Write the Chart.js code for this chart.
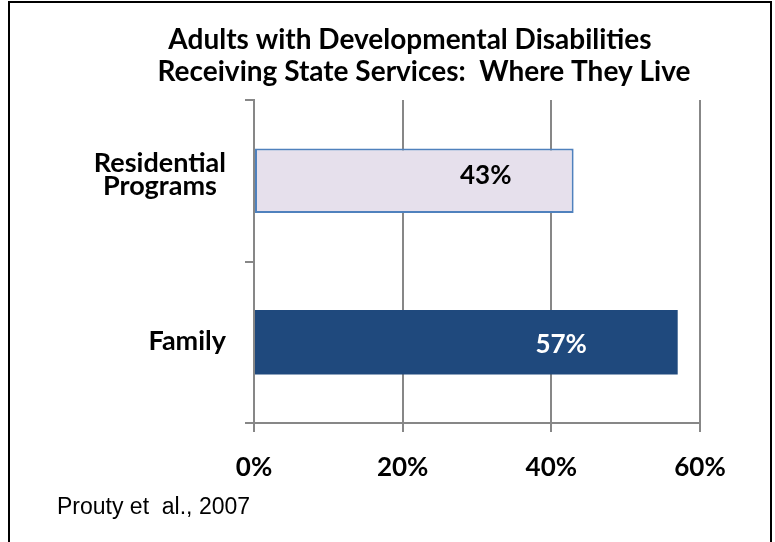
<!DOCTYPE html>
<html><head><meta charset="utf-8">
<script src="https://cdn.jsdelivr.net/npm/chart.js@4"></script>
<style>html,body{margin:0;padding:0;background:#fff}#wrap{width:775px;height:542px;position:relative}</style>
</head><body><div id="wrap"><canvas id="c"></canvas></div>
<script>
const titleLines = ["Adults with Developmental Disabilities", "Receiving State Services:  Where They Live"];
const categories = [["Residential", "Programs"], ["Family"]];
const values = [43, 57];
const valueLabels = ["43%", "57%"];
const xTickValues = [0, 20, 40, 60];
const sourceNote = "Prouty et  al., 2007";

const barFill = ["#E6E0EC", "#1F497D"];
const barEdge = ["#4F81BD", "#1F497D"];
const labelInk = ["#000000", "#FFFFFF"];
const FONT = "Lato, 'Open Sans', sans-serif";
const GRID = "#878787";

const overlay = {
  id: "overlay",
  afterDraw(chart) {
    const ctx = chart.ctx;
    const ys = chart.scales.y, xs = chart.scales.x;
    ctx.save();
    // frame
    ctx.strokeStyle = "#000"; ctx.lineWidth = 2;
    ctx.strokeRect(9, 2, 762, 560);
    // title
    ctx.fillStyle = "#000";
    ctx.font = "bold 28px " + FONT;
    ctx.textAlign = "center"; ctx.textBaseline = "alphabetic";
    ctx.fillText(titleLines[0], 410, 49);
    ctx.fillText(titleLines[1], 424, 81);
    // category labels
    ctx.font = "bold 27px " + FONT;
    categories.forEach((lines, i) => {
      const cy = ys.getPixelForValue(i);
      const w = Math.max(...lines.map(l => ctx.measureText(l).width));
      const cx = 226 - w / 2;
      const n = lines.length;
      lines.forEach((l, k) => {
        ctx.fillText(l, cx, cy + 8 - (n - 1) * 17 + k * 23);
      });
    });
    // value labels
    ctx.font = "bold 26px " + FONT;
    const dy = [3, 11];
    const meta = chart.getDatasetMeta(0);
    meta.data.forEach((bar, i) => {
      const x0 = xs.getPixelForValue(0);
      const x1 = xs.getPixelForValue(values[i]);
      ctx.fillStyle = labelInk[i];
      ctx.fillText(valueLabels[i], x0 + (x1 - x0) * 0.725, bar.y + dy[i]);
    });
    // source
    ctx.fillStyle = "#000";
    ctx.textAlign = "left";
    ctx.font = "23px 'Liberation Sans', Arial, sans-serif";
    ctx.fillText(sourceNote, 57, 514);
    ctx.restore();
  }
};

new Chart(document.getElementById("c"), {
  type: "bar",
  data: {
    labels: categories,
    datasets: [{
      data: values,
      backgroundColor: barFill,
      borderColor: barEdge,
      borderWidth: [2, 0],
      borderSkipped: false,
      barPercentage: 0.4,
      categoryPercentage: 1
    }]
  },
  options: {
    indexAxis: "y",
    responsive: true,
    maintainAspectRatio: false,
    animation: false,
    layout: { padding: { top: 100, right: 75, left: 0, bottom: 0 } },
    plugins: { legend: { display: false }, title: { display: false }, tooltip: { enabled: false } },
    scales: {
      x: {
        min: 0, max: 60,
        afterBuildTicks(s) { s.ticks = xTickValues.map(v => ({ value: v })); },
        afterFit(s) { s.height = 542 - 423; },
        ticks: {
          callback: v => v + "%",
          color: "#000",
          font: { family: FONT, size: 26, weight: "bold" },
          padding: 20,
          maxRotation: 0
        },
        grid: { color: GRID, lineWidth: 2, tickLength: 9, drawTicks: true },
        border: { display: true, color: GRID, width: 2 }
      },
      y: {
        afterFit(s) { s.width = 254; },
        ticks: { display: false },
        grid: { offset: true, drawOnChartArea: false, color: GRID, lineWidth: 2, tickLength: 9 },
        border: { display: true, color: GRID, width: 2 }
      }
    }
  },
  plugins: [overlay]
});
</script>
</body></html>
